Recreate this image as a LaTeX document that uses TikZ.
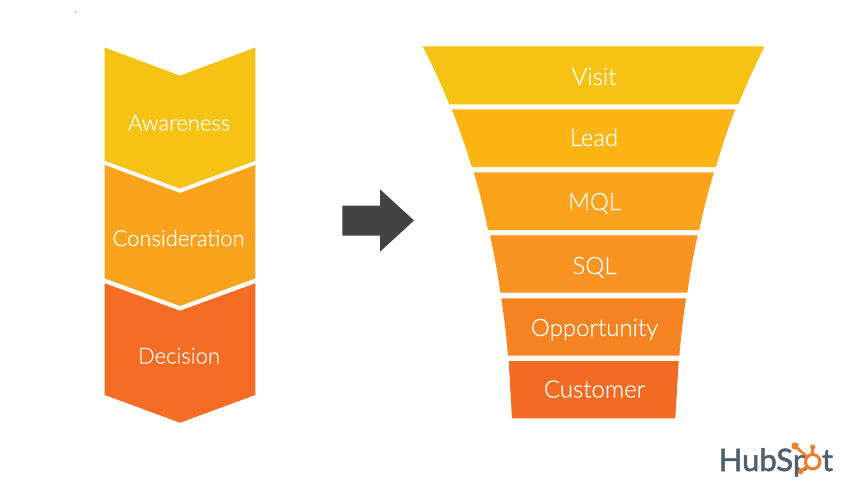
\documentclass[tikz,border=0pt]{standalone}
\usepackage{fontspec}
\setmainfont{Lato Light}[FakeBold=0.25]
\newfontfamily\logofont{Lato}[FakeBold=1.6]
\definecolor{cA}{HTML}{F6C214}
\definecolor{cB}{HTML}{FDB415}
\definecolor{cC}{HTML}{FBA31C}
\definecolor{cD}{HTML}{F99321}
\definecolor{cE}{HTML}{F58321}
\definecolor{cF}{HTML}{F36C23}
\definecolor{cG}{HTML}{F56C25}
\definecolor{logoDark}{HTML}{4F5F6C}
\definecolor{logoOrange}{HTML}{F57C2B}
\definecolor{arrowDark}{HTML}{434343}
\tikzset{
  stagelabel/.style={text=white,font=\fontsize{22}{24}\selectfont,inner sep=0pt,anchor=base},
  funnellabel/.style={stagelabel,font=\fontsize{24}{26}\selectfont},
  logotext/.style={text=logoDark,font=\logofont\fontsize{31}{36}\selectfont,inner sep=0pt,anchor=base west},
  logostroke/.style={draw=logoOrange,line width=2.6pt,line cap=round},
}
\begin{document}
\begin{tikzpicture}[x=1pt,y=-1pt]
\useasboundingbox (0,0) rectangle (850,490);
\fill[white] (0,0) rectangle (850,490);
\fill[gray] (74.5,10.5) rectangle (76,12);
% chevrons
\fill[cA] (104.7,47.5) -- (180,75.7) -- (255.3,47.5) -- (255.3,160.7) -- (180,188.5) -- (104.7,160.7) -- cycle;
\fill[cC] (104.7,165) -- (180,193) -- (255.3,165) -- (255.3,278.3) -- (180,306) -- (104.7,278.3) -- cycle;
\fill[cG] (104.7,283.3) -- (180,310.7) -- (255.3,283.3) -- (255.3,395) -- (180,422.7) -- (104.7,395) -- cycle;
\node[stagelabel] (awareness) at (179,130.5) {Awareness};
\node[stagelabel] (consideration) at (178.5,246) {Consideration};
\node[stagelabel] (decision) at (179,363.5) {Decision};
% arrow
\fill[arrowDark] (342.3,205.7) -- (380,205.7) -- (380,189.3) -- (414,220.5) -- (380,251.7) -- (380,235.7) -- (342.3,235.7) -- cycle;
% funnel
\fill[cA] (422.7,46.3) -- (764.7,46.3) .. controls (754.9,65.6) and (746.1,85) .. (738.3,104.3) -- (449.3,104.3) .. controls (441.4,85) and (432.6,65.6) .. (422.7,46.3) -- cycle;
\fill[cB] (451.7,109.3) -- (735.3,109.3) .. controls (727.9,128.5) and (721.4,147.8) .. (716,167) -- (471.7,167) .. controls (466,147.8) and (459.4,128.5) .. (451.7,109.3) -- cycle;
\fill[cC] (473.7,172.3) -- (714,172.3) .. controls (708.1,191.5) and (703.2,210.8) .. (699.3,230) -- (488,230) .. controls (484.2,210.8) and (479.5,191.5) .. (473.7,172.3) -- cycle;
\fill[cD] (490,235.3) -- (697.7,235.3) .. controls (693.4,254.4) and (690,273.6) .. (687.3,292.7) -- (500.3,292.7) .. controls (497.7,273.6) and (494.2,254.4) .. (490,235.3) -- cycle;
\fill[cE] (501.3,298.3) -- (686,298.3) .. controls (683.2,317.4) and (680.9,336.6) .. (679.3,355.7) -- (508,355.7) .. controls (506.4,336.6) and (504.1,317.4) .. (501.3,298.3) -- cycle;
\fill[cF] (508.7,361) -- (678.7,361) .. controls (677.5,380) and (676.5,399) .. (675.3,418.3) -- (512,418.3) .. controls (510.8,399) and (509.8,380) .. (508.7,361) -- cycle;
\node[funnellabel] (visit) at (594,85) {Visit};
\node[funnellabel] (lead) at (594,146) {Lead};
\node[funnellabel] (mql) at (594.5,210) {MQL};
\node[funnellabel] (sql) at (594.5,274) {SQL};
\node[funnellabel] (opportunity) at (594.5,336) {Opportunity};
\node[funnellabel] (customer) at (594.5,397.5) {Customer};
% logo
\node[logotext] (hubsp) at (718.5,471) {HubSp};
\node[logotext,anchor=base] (logot) at (827.5,471) {t};
\coordinate (sprocket) at (812.7,461.7);
\coordinate (dotA) at (795,446);
\coordinate (dotB) at (812.7,447);
\coordinate (dotC) at (800.5,471.5);
\draw[logostroke] (dotA) -- (sprocket);
\draw[logostroke] (dotB) -- (sprocket);
\draw[logostroke] (dotC) -- (sprocket);
\fill[white] (sprocket) circle (8.5);
\draw[logostroke,line width=3pt] (sprocket) circle (7.2);
\fill[logoOrange] (dotA) circle (3.6);
\fill[logoOrange] (dotB) circle (2.6);
\fill[logoOrange] (dotC) circle (2.8);
\end{tikzpicture}
\end{document}
